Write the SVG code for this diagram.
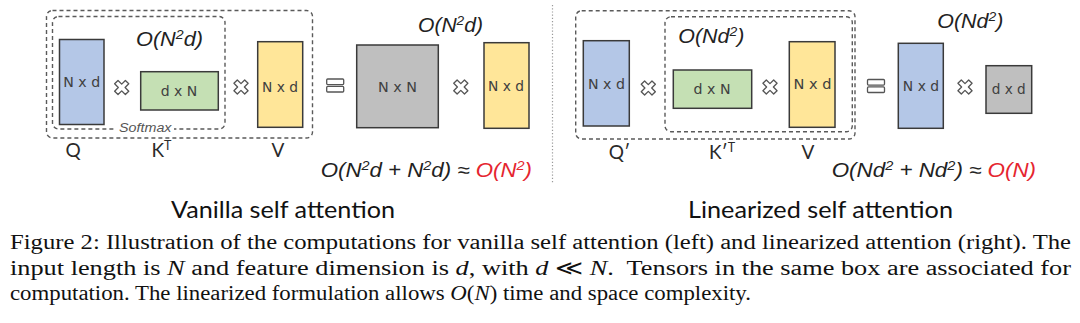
<svg xmlns="http://www.w3.org/2000/svg" xmlns:xlink="http://www.w3.org/1999/xlink" width="1080" height="323" viewBox="0 0 1080 323">
<style>
.bg{fill:#ffffff}
.dash{fill:none;stroke:#5a5a5a;stroke-width:1.4;stroke-dasharray:4 3}
.mat{stroke:#3a3a3a;stroke-width:1.5}
.blue{fill:#b4c7e7}
.green{fill:#c5e0b4}
.yellow{fill:#ffe699}
.gray{fill:#bfbfbf}
.dim{font-family:"DejaVu Sans","Liberation Sans",sans-serif;font-size:14px;fill:#404040;text-anchor:middle}
.cx{font-family:"Liberation Sans",Arial,sans-serif;font-style:italic;font-size:20px;fill:#222}
.sup{font-size:13px}
.red{fill:#e5252f}
.lbl{font-family:"Lato","Liberation Sans",sans-serif;font-size:19px;fill:#2a2a2a}
.title{font-family:"Lato","Liberation Sans",sans-serif;font-size:23px;fill:#111}
.cap{font-family:"Liberation Serif","Times New Roman",serif;font-size:20.5px;fill:#111}
.op{fill:#ffffff;stroke:#555;stroke-width:1.3;stroke-linejoin:round}
.sm{font-family:"Liberation Sans",Arial,sans-serif;font-style:italic;font-size:12.5px;fill:#555}
</style>
<defs>
<path id="mul" transform="rotate(45)" d="M-2.4,-7.6 L2.4,-7.6 L2.4,-2.4 L7.6,-2.4 L7.6,2.4 L2.4,2.4 L2.4,7.6 L-2.4,7.6 L-2.4,2.4 L-7.6,2.4 L-7.6,-2.4 L-2.4,-2.4 Z"/>
<g id="eq">
<rect x="0" y="0" width="17" height="5.6" rx="1"/>
<rect x="0" y="7.4" width="17" height="5.6" rx="1"/>
</g>
</defs>
<rect class="bg" x="0" y="0" width="1080" height="323"/>

<!-- separator -->
<line x1="552.5" y1="5" x2="552.5" y2="184" stroke="#9a9a9a" stroke-width="1.2" stroke-dasharray="1.2 2"/>

<!-- ===== LEFT: vanilla ===== -->
<g id="vanilla-outer-box">
<rect class="dash" x="46.5" y="10.5" width="266" height="127.5" rx="6"/>
</g>
<g id="vanilla-softmax-box">
<rect class="dash" x="52.5" y="16.5" width="172.5" height="112.5" rx="6"/>
<rect class="bg" x="116" y="122" width="58" height="12"/>
<text class="sm" x="119" y="131.5" textLength="52.5" lengthAdjust="spacingAndGlyphs">Softmax</text>
<text class="cx" x="136" y="46" textLength="67" lengthAdjust="spacingAndGlyphs">O(N<tspan class="sup" dy="-7">2</tspan><tspan dy="7">d)</tspan></text>
</g>
<g id="v-Q">
<rect class="mat blue" x="59.5" y="39.5" width="44.5" height="85"/>
<text class="dim" x="81.7" y="87" textLength="37" lengthAdjust="spacingAndGlyphs">N x d</text>
<text class="lbl" x="73" y="157" text-anchor="middle">Q</text>
</g>
<g id="v-K">
<rect class="mat green" x="140.7" y="71.7" width="77.6" height="38.3"/>
<text class="dim" x="179" y="96" textLength="36.6" lengthAdjust="spacingAndGlyphs">d x N</text>
<text class="lbl" x="151.5" y="157">K<tspan font-size="12.5" dy="-7">T</tspan></text>
</g>
<g id="v-V">
<rect class="mat yellow" x="257.7" y="41.7" width="45" height="85.6"/>
<text class="dim" x="280" y="91.5" textLength="36" lengthAdjust="spacingAndGlyphs">N x d</text>
<text class="lbl" x="278" y="157" text-anchor="middle">V</text>
</g>
<g id="v-attn">
<rect class="mat gray" x="356.7" y="45" width="81.6" height="82.7"/>
<text class="dim" x="397.5" y="91.7" textLength="39" lengthAdjust="spacingAndGlyphs">N x N</text>
</g>
<g id="v-V2">
<rect class="mat yellow" x="484" y="42.7" width="45" height="85.6"/>
<text class="dim" x="506" y="90.7" textLength="36" lengthAdjust="spacingAndGlyphs">N x d</text>
</g>
<text class="cx" x="418" y="31.7" textLength="65" lengthAdjust="spacingAndGlyphs">O(N<tspan class="sup" dy="-7">2</tspan><tspan dy="7">d)</tspan></text>
<text class="cx" x="320.7" y="176.5" textLength="211.3" lengthAdjust="spacingAndGlyphs">O(N<tspan class="sup" dy="-7">2</tspan><tspan dy="7">d + N</tspan><tspan class="sup" dy="-7">2</tspan><tspan dy="7">d) ≈ </tspan><tspan class="red">O(N</tspan><tspan class="red sup" dy="-7">2</tspan><tspan class="red" dy="7">)</tspan></text>
<text class="title" x="171" y="218" textLength="224" lengthAdjust="spacingAndGlyphs">Vanilla self attention</text>

<!-- ===== RIGHT: linearized ===== -->
<g id="linear-outer-box">
<rect class="dash" x="575.7" y="10.7" width="279.3" height="128.3" rx="6"/>
</g>
<g id="linear-kv-box">
<rect class="dash" x="665" y="16.7" width="187.3" height="115" rx="6"/>
<text class="cx" x="678.3" y="42.7" textLength="66" lengthAdjust="spacingAndGlyphs">O(Nd<tspan class="sup" dy="-7">2</tspan><tspan dy="7">)</tspan></text>
</g>
<g id="l-Q">
<rect class="mat blue" x="583.3" y="40.7" width="46" height="85.3"/>
<text class="dim" x="606.5" y="89.3" textLength="37" lengthAdjust="spacingAndGlyphs">N x d</text>
<text class="lbl" x="619.5" y="159" text-anchor="middle">Q′</text>
</g>
<g id="l-K">
<rect class="mat green" x="673.3" y="70" width="78.4" height="38.3"/>
<text class="dim" x="712" y="94" textLength="37" lengthAdjust="spacingAndGlyphs">d x N</text>
<text class="lbl" x="709" y="159">K′<tspan font-size="12.5" dy="-7">T</tspan></text>
</g>
<g id="l-V">
<rect class="mat yellow" x="789.3" y="41.7" width="45.7" height="85.6"/>
<text class="dim" x="812.5" y="89" textLength="38" lengthAdjust="spacingAndGlyphs">N x d</text>
<text class="lbl" x="808" y="159" text-anchor="middle">V</text>
</g>
<g id="l-Qproj">
<rect class="mat blue" x="898.3" y="43.3" width="45" height="85"/>
<text class="dim" x="921" y="90.7" textLength="36.3" lengthAdjust="spacingAndGlyphs">N x d</text>
</g>
<g id="l-KV">
<rect class="mat gray" x="986" y="65.7" width="45.7" height="47.6"/>
<text class="dim" x="1008.7" y="94" textLength="34" lengthAdjust="spacingAndGlyphs">d x d</text>
</g>
<text class="cx" x="937.3" y="28.3" textLength="66" lengthAdjust="spacingAndGlyphs">O(Nd<tspan class="sup" dy="-7">2</tspan><tspan dy="7">)</tspan></text>
<text class="cx" x="831.7" y="176.7" textLength="204.3" lengthAdjust="spacingAndGlyphs">O(Nd<tspan class="sup" dy="-7">2</tspan><tspan dy="7"> + Nd</tspan><tspan class="sup" dy="-7">2</tspan><tspan dy="7">) ≈ </tspan><tspan class="red">O(N)</tspan></text>
<text class="title" x="688" y="218" textLength="265" lengthAdjust="spacingAndGlyphs">Linearized self attention</text>

<!-- ===== operators ===== -->
<g id="connectors">
<use class="op" xlink:href="#mul" x="121.7" y="87.5"/>
<use class="op" xlink:href="#mul" x="241" y="87"/>
<use class="op" xlink:href="#eq" x="326.7" y="79"/>
<use class="op" xlink:href="#mul" x="460.8" y="87"/>
<use class="op" xlink:href="#mul" x="648.3" y="88"/>
<use class="op" xlink:href="#mul" x="770" y="87"/>
<use class="op" xlink:href="#eq" x="867.5" y="79.5"/>
<use class="op" xlink:href="#mul" x="965" y="87"/>
</g>

<!-- ===== caption ===== -->
<g id="caption">
<text class="cap" x="10" y="249" textLength="1061" lengthAdjust="spacingAndGlyphs">Figure 2: Illustration of the computations for vanilla self attention (left) and linearized attention (right). The</text>
<text class="cap" x="10" y="274.5" textLength="1061" lengthAdjust="spacingAndGlyphs">input length is <tspan font-style="italic">N</tspan> and feature dimension is <tspan font-style="italic">d</tspan>, with <tspan font-style="italic">d</tspan> ≪ <tspan font-style="italic">N</tspan>.&#160; Tensors in the same box are associated for</text>
<text class="cap" x="10" y="300" textLength="741" lengthAdjust="spacingAndGlyphs">computation. The linearized formulation allows <tspan font-style="italic">O</tspan>(<tspan font-style="italic">N</tspan>) time and space complexity.</text>
</g>
</svg>
